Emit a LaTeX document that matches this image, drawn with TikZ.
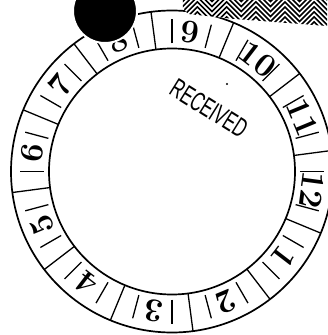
\documentclass[tikz,border=0pt]{standalone}
\usepackage{fontspec}
\usepackage{tikz}
\usetikzlibrary{calc}
\newfontfamily\stampfont{Liberation Sans}[FakeStretch=0.62]
\tikzset{
  digit/.style={font=\fontsize{33}{33}\selectfont\bfseries, inner sep=0pt},
  ringline/.style={line width=1.7pt},
  tickline/.style={line width=1.3pt},
}

\begin{document}
\begin{tikzpicture}[x=1pt,y=1pt]
        % Page size
        \useasboundingbox (-172,-163.5) rectangle (155,171.5);
        % Define coordinates
        \coordinate (O) at (0,0);
        \coordinate (D) at (-67,160.5);
        \coordinate (P) at (55,87.5);
        % Draw the two rings
        \draw[ringline] (O) circle (161);
        \draw[ringline] (O) circle (123);
        % Dividers between the numbers
        \foreach \a in {7.5,37.5,...,337.5}
          \draw[tickline] (\a:123) -- (\a:161);
        % Short ticks on both sides of each number
        \foreach \a in {0,15,...,345}
          \draw[tickline] (\a:128) -- (\a:152);
        % Numbers, tops pointing outwards
        \foreach \n in {1,...,12}{
          \pgfmathsetmacro{\ang}{352.5-30*\n}
          \node[digit, rotate=\ang-90] (n\n) at (\ang:141) {\n};
        }
        % Black disc over the ring
        \filldraw[draw=white, line width=2pt, fill=black] (D) circle (32);
        % Zigzag paper at the top right
        \fill[white] (11,171.5) -- (155,171.5) -- (155,145.5) -- (63,152.5) -- (16,157.5) -- (11,163.5) -- cycle;
        \begin{scope}
          \clip (11,171.5) -- (155,171.5) -- (155,145.5) -- (63,152.5) -- (16,157.5) -- (11,163.5) -- cycle;
          \foreach \j in {0,...,8}
            \draw[line width=1.6pt] (-18.4,130+5*\j)
              \foreach \k in {1,...,7}{ -- ++(14.6,14.6) -- ++(14.6,-14.6) };
        \end{scope}
        % Stamp
        \node[rotate=-32, inner sep=0pt, font=\stampfont\fontsize{27}{27}\selectfont] (stamp) at (37,63)
          {RECEIVED};
        \fill (P) circle (1.2);
\end{tikzpicture}
\end{document}
